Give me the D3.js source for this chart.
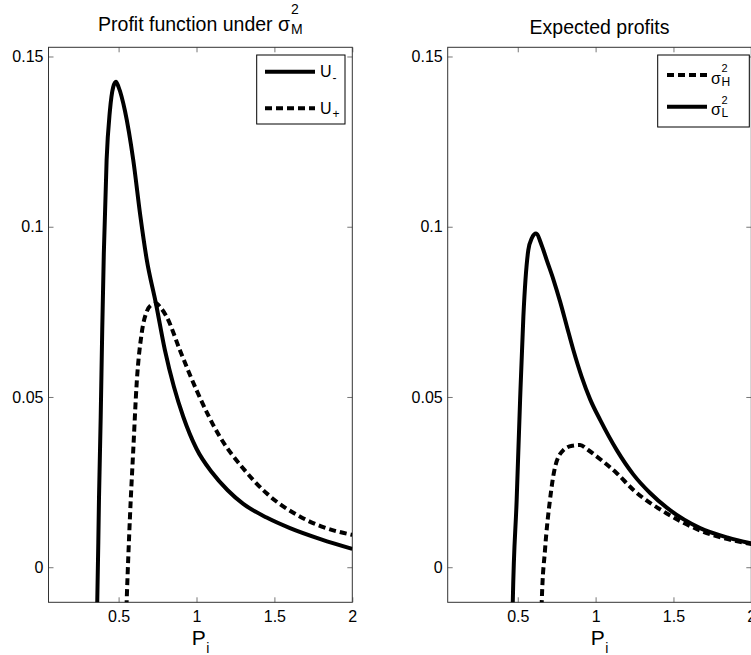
<!DOCTYPE html>
<html>
<head>
<meta charset="utf-8">
<script src="https://cdn.jsdelivr.net/npm/d3@7"></script>
<style>
  body { margin: 0; background: #fff; }
  svg { display: block; font-family: "Liberation Sans", Arial, sans-serif; }
</style>
</head>
<body>
<svg id="chart" width="751" height="655"></svg>
<script>
// Values, [P_i, profit]
const uMinus = [
  [0.355, -0.015], [0.363, -0.010], [0.374, 0.020], [0.385, 0.044], [0.395, 0.070],
  [0.405, 0.092], [0.423, 0.1196], [0.444, 0.134], [0.465, 0.141], [0.483, 0.1426],
  [0.500, 0.141], [0.541, 0.134], [0.594, 0.1196], [0.640, 0.103], [0.680, 0.0905],
  [0.739, 0.0776], [0.797, 0.0638], [0.855, 0.053], [0.915, 0.0442], [1.000, 0.0348],
  [1.100, 0.0278], [1.200, 0.0226], [1.300, 0.0186], [1.450, 0.0146], [1.600, 0.0115],
  [1.800, 0.0082], [2.000, 0.0054]
];
const uPlus = [
  [0.548, -0.015], [0.552, -0.0096], [0.573, 0.0149], [0.594, 0.0344], [0.616, 0.054],
  [0.648, 0.0687], [0.680, 0.075], [0.715, 0.0772], [0.740, 0.0775], [0.770, 0.0762],
  [0.808, 0.0736], [0.893, 0.0638], [1.000, 0.052], [1.150, 0.0383], [1.300, 0.029],
  [1.450, 0.0217], [1.663, 0.0149], [1.800, 0.012], [2.000, 0.0095]
];
const sigmaH = [
  [0.652, -0.015], [0.654, -0.0103], [0.675, 0.0051], [0.707, 0.0198], [0.740, 0.0295],
  [0.793, 0.0344], [0.850, 0.0357], [0.900, 0.0359], [0.950, 0.0345], [1.008, 0.0325],
  [1.136, 0.0276], [1.243, 0.0227], [1.457, 0.0158], [1.671, 0.0108], [2.000, 0.0068]
];
const sigmaL = [
  [0.466, -0.015], [0.468, -0.0103], [0.493, 0.0198], [0.515, 0.0491], [0.536, 0.0736],
  [0.568, 0.0932], [0.590, 0.0966], [0.617, 0.098], [0.654, 0.0945], [0.686, 0.0902],
  [0.729, 0.0845], [0.772, 0.078], [0.815, 0.0708], [0.857, 0.0638], [0.910, 0.056],
  [0.965, 0.0493], [1.030, 0.0432], [1.136, 0.0344], [1.243, 0.0272], [1.350, 0.0218],
  [1.457, 0.0175], [1.671, 0.0115], [1.850, 0.0087], [2.000, 0.007]
];

const xTicks = [0.5, 1, 1.5, 2];
const xTickLabels = ['0.5', '1', '1.5', '2'];
const yTicks = [0, 0.05, 0.1, 0.15];
const yTickLabels = ['0', '0.05', '0.1', '0.15'];

const svg = d3.select('#chart');
const plotTop = 47.3, plotBottom = 602.3;
const y = d3.scaleLinear().domain([-0.0103, 0.1527]).range([plotBottom, plotTop]);

const panels = [
  {
    id: 'left', x0: 48.5, x1: 352.3,
    title: { main: 'Profit function under \u03c3', sup: '2', sub: 'M' },
    series: [
      { data: uMinus, dash: null, label: 'U', sub: '-' },
      { data: uPlus, dash: '7,4', label: 'U', sub: '+' }
    ],
    legend: { x: 256.7, y: 55, w: 88.3, h: 69, lx0: 265, lx1: 315, tx: 320, rows: [71.7, 108.3] }
  },
  {
    id: 'right', x0: 447.7, x1: 751.3,
    title: { main: 'Expected profits' },
    series: [
      { data: sigmaL, dash: null, label: '\u03c3', sup: '2', sub: 'L', row: 1 },
      { data: sigmaH, dash: '7,4', label: '\u03c3', sup: '2', sub: 'H', row: 0 }
    ],
    legend: { x: 657.7, y: 55, w: 91.6, h: 72, lx0: 667, lx1: 707, tx: 711, rows: [75, 106.7] }
  }
];

panels.forEach(p => {
  const x = d3.scaleLinear().domain([0.05, 2]).range([p.x0, p.x1]);
  const g = svg.append('g');

  // clip for curves
  svg.append('clipPath').attr('id', 'clip-' + p.id)
    .append('rect').attr('x', p.x0).attr('y', plotTop)
    .attr('width', p.x1 - p.x0).attr('height', plotBottom - plotTop);

  // axes with inward ticks on all four sides
  const fmtX = d => xTickLabels[xTicks.indexOf(d)];
  const fmtY = d => yTickLabels[yTicks.indexOf(d)];
  const axB = g.append('g').attr('transform', `translate(0,${plotBottom})`)
    .call(d3.axisBottom(x).tickValues(xTicks).tickFormat(fmtX).tickSize(-5).tickPadding(8));
  const axT = g.append('g').attr('transform', `translate(0,${plotTop})`)
    .call(d3.axisTop(x).tickValues(xTicks).tickFormat('').tickSize(-5));
  const axL = g.append('g').attr('transform', `translate(${p.x0},0)`)
    .call(d3.axisLeft(y).tickValues(yTicks).tickFormat(fmtY).tickSize(-5).tickPadding(5));
  const axR = g.append('g').attr('transform', `translate(${p.x1},0)`)
    .call(d3.axisRight(y).tickValues(yTicks).tickFormat('').tickSize(-5));
  [axB, axT, axL, axR].forEach(a => {
    a.select('.domain').remove();
    a.selectAll('line').attr('stroke', '#777');
    a.selectAll('text').attr('fill', '#000').style('font-size', '16px')
      .style('font-family', '"Liberation Sans", Arial, sans-serif');
  });
  g.append('rect').attr('x', p.x0).attr('y', plotTop)
    .attr('width', p.x1 - p.x0).attr('height', plotBottom - plotTop)
    .attr('fill', 'none').attr('stroke', '#333').attr('stroke-width', 1);

  // curves
  const line = d3.line().x(d => x(d[0])).y(d => y(d[1])).curve(d3.curveMonotoneX);
  p.series.forEach(s => {
    g.append('path').datum(s.data)
      .attr('clip-path', `url(#clip-${p.id})`)
      .attr('d', line)
      .attr('fill', 'none').attr('stroke', '#000').attr('stroke-width', 4)
      .attr('stroke-dasharray', s.dash);
  });

  // title
  const t = g.append('g');
  const tMain = t.append('text').attr('x', 0).attr('y', 0)
    .style('font-size', '19.5px').text(p.title.main);
  let w = tMain.node().getComputedTextLength();
  if (p.title.sup) {
    const sp = t.append('text').attr('x', w + 1).attr('y', -17).style('font-size', '14px').text(p.title.sup);
    const sb = t.append('text').attr('x', w + 1).attr('y', 3).style('font-size', '14px').text(p.title.sub);
    w += 1 + Math.max(sp.node().getComputedTextLength(), sb.node().getComputedTextLength());
  }
  const titleY = p.title.sup ? 31 : 34;
  t.attr('transform', `translate(${(p.x0 + p.x1) / 2 - w / 2},${titleY})`);

  // x label P_i
  const xl = g.append('g');
  const pT = xl.append('text').attr('x', 0).attr('y', 0).style('font-size', '21px').text('P');
  const pw = pT.node().getComputedTextLength();
  xl.append('text').attr('x', pw + 0.5).attr('y', 8).style('font-size', '14px').text('i');
  xl.attr('transform', `translate(${(p.x0 + p.x1) / 2 - 8.7},645)`);

  // legend
  const L = p.legend;
  const lg = g.append('g');
  lg.append('rect').attr('x', L.x).attr('y', L.y).attr('width', L.w).attr('height', L.h)
    .attr('fill', '#fff').attr('stroke', '#000').attr('stroke-width', 1);
  p.series.forEach((s, i) => {
    const ry = L.rows[s.row !== undefined ? s.row : i];
    lg.append('line').attr('x1', L.lx0).attr('x2', L.lx1).attr('y1', ry).attr('y2', ry)
      .attr('stroke', '#000').attr('stroke-width', 4).attr('stroke-dasharray', s.dash);
    const main = lg.append('text').attr('x', L.tx).attr('y', ry + (s.sup ? 8.5 : 5.6))
      .style('font-size', '16px').text(s.label);
    const mw = main.node().getComputedTextLength();
    if (s.sup) {
      lg.append('text').attr('x', L.tx + mw + 0.5).attr('y', ry - 3).style('font-size', '11px').text(s.sup);
      lg.append('text').attr('x', L.tx + mw + 0.5).attr('y', ry + 10.5).style('font-size', '12px').text(s.sub);
    } else {
      lg.append('text').attr('x', L.tx + mw + 1).attr('y', ry + 10).style('font-size', '12px').text(s.sub);
    }
  });
});
</script>
</body>
</html>
